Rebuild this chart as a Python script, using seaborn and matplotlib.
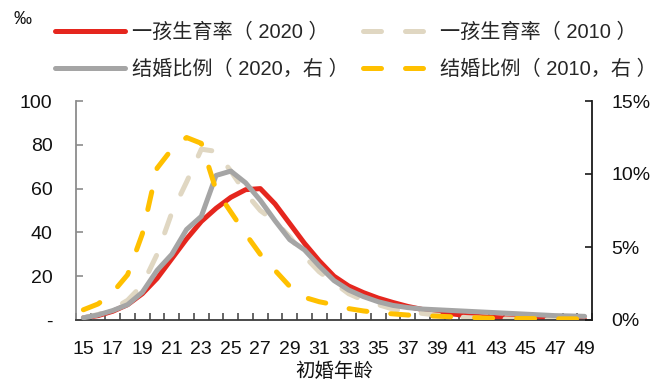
import matplotlib
matplotlib.use("Agg")
import matplotlib.pyplot as plt
import pandas as pd
import seaborn as sns
from matplotlib.ticker import FixedLocator

# Age at first marriage
ages = list(range(15, 50))

# First-birth fertility rate by age (per mille, left axis)
first_birth_2020 = [1.0, 2.0, 4.0, 7.0, 12.0, 19.0, 28.0, 37.0, 45.0, 51.0,
                    56.0, 59.5, 60.0, 53.0, 44.0, 35.0, 27.0, 20.0, 15.5, 12.5,
                    10.0, 8.0, 6.2, 4.8, 3.8, 2.8, 2.0, 1.5, 1.1, 0.8,
                    0.6, 0.4, 0.3, 0.2, 0.1]
first_birth_2010 = [1.0, 2.5, 5.0, 9.0, 16.0, 30.0, 49.0, 63.0, 78.0, 77.0,
                    68.0, 58.0, 50.0, 45.0, 38.0, 29.0, 22.0, 17.0, 12.0, 9.0,
                    7.0, 5.0, 4.0, 3.0, 2.2, 1.6, 1.1, 0.8, 0.6, 0.4,
                    0.3, 0.2, 0.2, 0.1, 0.1]

# Share of first marriages by age (%, right axis)
marriage_2020 = [0.15, 0.35, 0.65, 1.05, 1.9, 3.4, 4.5, 6.2, 7.1, 9.9,
                 10.2, 9.4, 8.2, 6.8, 5.5, 4.8, 3.7, 2.7, 2.05, 1.6,
                 1.25, 1.0, 0.85, 0.75, 0.7, 0.65, 0.6, 0.55, 0.5, 0.45,
                 0.4, 0.35, 0.3, 0.28, 0.25]
marriage_2010 = [0.7, 1.1, 1.9, 3.1, 5.9, 10.4, 11.7, 12.5, 12.1, 8.9,
                 7.4, 5.9, 4.5, 3.4, 2.3, 1.55, 1.25, 1.05, 0.78, 0.62,
                 0.5, 0.42, 0.34, 0.3, 0.26, 0.22, 0.18, 0.14, 0.12, 0.1,
                 0.1, 0.09, 0.08, 0.08, 0.07]

left_ticks = [0, 20, 40, 60, 80, 100]
left_labels = ["-", "20", "40", "60", "80", "100"]
right_ticks = [0, 5, 10, 15]
right_labels = ["0%", "5%", "10%", "15%"]
x_labels = list(range(15, 50, 2))

labels = ["一孩生育率（ 2020 ）", "一孩生育率（ 2010 ）",
          "结婚比例（ 2020，右 ）", "结婚比例（ 2010，右 ）"]

df = pd.DataFrame({
    "age": ages,
    "fb2020": first_birth_2020,
    "fb2010": first_birth_2010,
    "m2020": marriage_2020,
    "m2010": marriage_2010,
})

sns.set_theme(style="white")
plt.rcParams["font.family"] = ["Liberation Sans", "Noto Sans CJK SC"]
plt.rcParams["axes.unicode_minus"] = False

RED = "#E5261E"
BEIGE = "#E0D7C2"
GRAY = "#A5A5A5"
YELLOW = "#FFC000"
LW = 3.6
DASH = (0, (3.6, 4.8))

fig = plt.figure(figsize=(6.7, 3.81), dpi=100)
ax = fig.add_axes([76 / 670, 1 - 320 / 381, (592 - 76) / 670, (320 - 101) / 381])
ax2 = ax.twinx()

sns.lineplot(data=df, x="age", y="fb2020", ax=ax, color=RED, lw=LW,
             solid_capstyle="round", legend=False)
sns.lineplot(data=df, x="age", y="fb2010", ax=ax, color=BEIGE, lw=LW,
             linestyle=DASH, dash_capstyle="round", legend=False)
sns.lineplot(data=df, x="age", y="m2020", ax=ax2, color=GRAY, lw=LW,
             solid_capstyle="round", legend=False)
sns.lineplot(data=df, x="age", y="m2010", ax=ax2, color=YELLOW, lw=LW,
             linestyle=DASH, dash_capstyle="round", legend=False)

for a in (ax, ax2):
    a.set_xlim(14.5, 49.5)
    a.set_xlabel("")
    a.set_ylabel("")
    a.grid(False)
    for s in a.spines.values():
        s.set_visible(False)

ax.set_ylim(0, 100)
ax2.set_ylim(0, 15)

ax.spines["left"].set_visible(True)
ax.spines["left"].set_color("#8C8C8C")
ax.spines["left"].set_linewidth(1.3)
ax.spines["bottom"].set_visible(True)
ax.spines["bottom"].set_color("#3C3C3C")
ax.spines["bottom"].set_linewidth(1.3)
ax2.spines["right"].set_visible(True)
ax2.spines["right"].set_color("#1A1A1A")
ax2.spines["right"].set_linewidth(1.3)

ax.set_yticks(left_ticks)
ax.set_yticklabels(left_labels)
ax.tick_params(axis="y", direction="in", length=5, width=1.2, color="#8C8C8C",
               labelsize=14, pad=17, labelcolor="#111111")
ax2.set_yticks(right_ticks)
ax2.set_yticklabels(right_labels)
ax2.tick_params(axis="y", direction="in", length=5, width=1.2, color="#1A1A1A",
                labelsize=14, pad=14, labelcolor="#111111")

ax.set_xticks(x_labels)
ax.set_xticklabels([str(v) for v in x_labels])
ax.xaxis.set_minor_locator(FixedLocator([v + 0.5 for v in range(14, 50)]))
ax.tick_params(axis="x", which="major", length=0, labelsize=14, pad=15,
               labelcolor="#111111")
ax.tick_params(axis="x", which="minor", direction="in", length=5, width=1.1,
               color="#3C3C3C", bottom=True)
ax2.tick_params(axis="x", which="both", length=0, labelbottom=False)

ax.set_xlabel("初婚年龄", fontsize=14, labelpad=3.5, color="#111111")

fig.text(22 / 670, 1 - 19 / 381, "‰", fontsize=13, ha="center", va="center",
         color="#111111")

lines = [ax.lines[0], ax2.lines[0], ax.lines[1], ax2.lines[1]]
order = [labels[0], labels[2], labels[1], labels[3]]
fig.legend(lines, order, loc="upper left", bbox_to_anchor=(55 / 670, 1 - 23 / 381),
           ncol=2, frameon=False, fontsize=14.5, handlelength=3.5,
           handletextpad=0.3, columnspacing=0.75, labelspacing=0.85,
           borderaxespad=0, borderpad=0)

fig.savefig("out.png", dpi=100)
